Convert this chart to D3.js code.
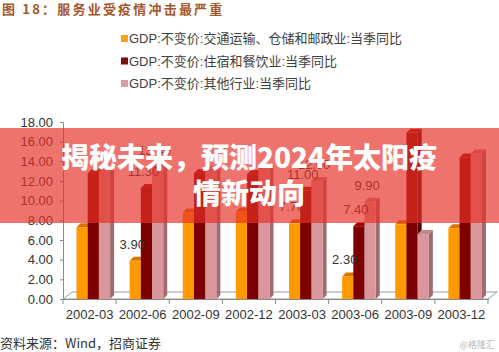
<!DOCTYPE html>
<html>
<head>
<meta charset="utf-8">
<script src="https://cdn.jsdelivr.net/npm/d3@7"></script>
<style>
  html, body { margin: 0; padding: 0; background: #fff; }
  svg { display: block; }
  text { font-family: "Liberation Sans", Arial, "Noto Sans CJK SC", sans-serif; }
</style>
</head>
<body>
<div id="chart"></div>
<script>
// categories (quarters)
const quarters = ["2002-03", "2002-06", "2002-09", "2002-12", "2003-03", "2003-06", "2003-09", "2003-12"];

// series names
const seriesNames = [
  "GDP:不变价:交通运输、仓储和邮政业:当季同比",
  "GDP:不变价:住宿和餐饮业:当季同比",
  "GDP:不变价:其他行业:当季同比"
];

// series values
const transport = [7.3, 3.9, 8.8, 8.9, 7.7, 2.3, 7.6, 7.2];
const catering  = [12.8, 11.3, 12.8, 12.7, 11.0, 7.4, 16.9, 14.4];
const others    = [13.0, 13.4, 13.1, 13.2, 12.0, 9.9, 6.6, 14.8];

// which points carry a data label: [series, quarter]
const labelled = [
  [0, 1], [0, 4], [0, 5],
  [1, 1], [1, 4], [1, 5],
  [2, 1], [2, 4], [2, 5]
];

const yTicks = [0, 2, 4, 6, 8, 10, 12, 14, 16, 18];

const W = 499, H = 352;
const svg = d3.select("#chart").append("svg")
  .attr("width", W).attr("height", H);

// face colours: front, top, side
const colors = [
  { front: "#ff9900", top: "#d97400", side: "#c27000", legend: "#f5a21c" },
  { front: "#7d0000", top: "#a00000", side: "#520000", legend: "#7a0d0d" },
  { front: "#d9979c", top: "#c4858a", side: "#9e6b70", legend: "#d4a0a4" }
];
const series = [transport, catering, others];

// title
svg.append("text")
  .attr("x", 2).attr("y", 14)
  .attr("fill", "#a4552a")
  .attr("font-size", 13).attr("font-weight", "bold")
  .attr("letter-spacing", 2.2)
  .style("font-family", "'Noto Sans CJK SC', sans-serif")
  .text("图 18：服务业受疫情冲击最严重");

// legend
const legendY = [38.5, 61, 83.5];
seriesNames.forEach((name, i) => {
  svg.append("rect")
    .attr("x", 121).attr("y", legendY[i] - 3.5)
    .attr("width", 7).attr("height", 7)
    .attr("fill", colors[i].legend);
  svg.append("text")
    .attr("x", 129).attr("y", legendY[i] + 4.5)
    .attr("font-size", 13).attr("fill", "#404040")
    .text(name);
});

// scales
const y = d3.scaleLinear().domain([0, 18]).range([299, 122]);
const x = d3.scaleBand().domain(quarters).range([63, 488]).padding(0);
const xs = d3.scaleBand().domain([0, 1, 2]).range([13.5, 47.1]).padding(0);
const dx = 4, dy = -4;      // bar depth
const fdx = 9, fdy = -7;    // floor depth

// floor
svg.append("path")
  .attr("d", `M63,299 L488,299 L${488 + fdx},${299 + fdy} L${63 + fdx},${299 + fdy} Z`)
  .attr("fill", "#fff").attr("stroke", "#9a9a9a").attr("stroke-width", 1);

// y axis
const yAxis = svg.append("g")
  .attr("transform", "translate(63,0)")
  .call(d3.axisLeft(y).tickValues(yTicks).tickFormat(d3.format(".2f")).tickSize(3).tickPadding(7));
yAxis.select(".domain").attr("stroke", "#8a8a8a");
yAxis.selectAll(".tick line").attr("stroke", "#8a8a8a");
yAxis.selectAll("text").attr("font-size", 13).attr("fill", "#333")
  .style("font-family", "'Liberation Sans', Arial, sans-serif");

// x axis
const xAxis = svg.append("g")
  .attr("transform", "translate(0,299)")
  .call(d3.axisBottom(x).tickSize(0).tickPadding(11));
xAxis.select(".domain").attr("stroke", "#8a8a8a");
xAxis.selectAll("text").attr("font-size", 13).attr("fill", "#333")
  .style("font-family", "'Liberation Sans', Arial, sans-serif");
// category boundary ticks
xAxis.selectAll(".bound")
  .data(quarters.concat(["end"]))
  .enter().append("line")
  .attr("x1", (d, i) => 63 + i * x.bandwidth())
  .attr("x2", (d, i) => 63 + i * x.bandwidth())
  .attr("y1", 0).attr("y2", 5)
  .attr("stroke", "#8a8a8a");

// 3D bars
const bars = svg.append("g");
quarters.forEach((q, qi) => {
  series.forEach((vals, si) => {
    const x0 = x(q) + xs(si), w = xs.bandwidth();
    const yt = y(vals[qi]), yb = y(0);
    const g = bars.append("g");
    g.append("path") // side
      .attr("d", `M${x0 + w},${yb} L${x0 + w + dx},${yb + dy} L${x0 + w + dx},${yt + dy} L${x0 + w},${yt} Z`)
      .attr("fill", colors[si].side);
    g.append("path") // top
      .attr("d", `M${x0},${yt} L${x0 + dx},${yt + dy} L${x0 + w + dx},${yt + dy} L${x0 + w},${yt} Z`)
      .attr("fill", colors[si].top);
    g.append("rect") // front
      .attr("x", x0).attr("y", yt)
      .attr("width", w).attr("height", yb - yt)
      .attr("fill", colors[si].front);
  });
});

// data labels
svg.append("g").selectAll("text")
  .data(labelled)
  .enter().append("text")
  .attr("x", d => x(quarters[d[1]]) + xs(d[0]) + xs.bandwidth() / 2 - 3)
  .attr("y", d => y(series[d[0]][d[1]]) - 12)
  .attr("text-anchor", "middle")
  .attr("font-size", 13).attr("fill", "#333")
  .text(d => series[d[0]][d[1]].toFixed(2));

// source + watermark
svg.append("text")
  .attr("x", 0).attr("y", 348)
  .attr("font-size", 13).attr("fill", "#333")
  .style("font-family", "'Noto Sans CJK SC', sans-serif")
  .text("资料来源：Wind，招商证券");
svg.append("text")
  .attr("x", 495).attr("y", 348)
  .attr("text-anchor", "end")
  .attr("font-size", 9).attr("fill", "#b8b8b8")
  .style("font-family", "'Noto Sans CJK SC', sans-serif")
  .text("@格隆汇");

// red banner overlay
svg.append("rect")
  .attr("x", 0).attr("y", 128)
  .attr("width", W).attr("height", 95)
  .attr("fill", "rgb(232,48,40)").attr("fill-opacity", 0.68);
const banner = svg.append("text")
  .attr("text-anchor", "middle")
  .attr("fill", "#fff")
  .attr("font-size", 28).attr("font-weight", 900)
  .style("font-family", "'Noto Sans CJK SC', sans-serif");
banner.append("tspan").attr("x", 249).attr("y", 168).text("揭秘未来，预测2024年太阳疫");
banner.append("tspan").attr("x", 249).attr("y", 204).text("情新动向");
</script>
</body>
</html>
